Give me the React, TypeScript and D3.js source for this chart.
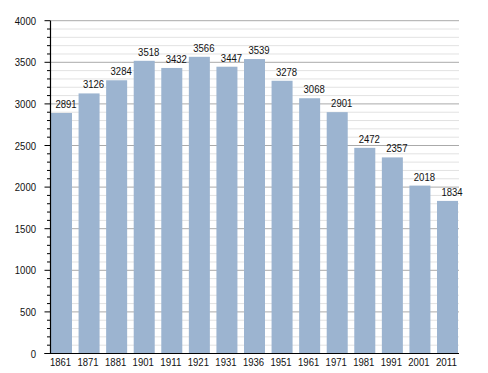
import React from "react";
import * as d3 from "d3";

const years = ["1861","1871","1881","1901","1911","1921","1931","1936","1951","1961","1971","1981","1991","2001","2011"];
const population = [2891,3126,3284,3518,3432,3566,3447,3539,3278,3068,2901,2472,2357,2018,1834];
const yMajorTicks = [0,500,1000,1500,2000,2500,3000,3500,4000];

const W = 488, H = 373;
const axisX = 50.5, plotRight = 459, yTop = 20.7, yBottom = 353.5;

export default function App() {
  const x = d3.scaleBand<string>().domain(years).range([51, 458]).paddingInner(0.238).paddingOuter(0).align(0);
  const y = d3.scaleLinear().domain([0, 4000]).range([yBottom, yTop]);
  const minor = d3.range(0, 4001, 100);
  const font = "'Liberation Sans', Arial, sans-serif";
  const perChar = 5.3;
  return (
    <svg width={W} height={H} style={{ position: "absolute", left: 0, top: 0, background: "#fff" }} fontFamily={font}>
      {minor.filter(v => v % 500 !== 0).map(v => (
        <line key={"g"+v} x1={axisX} x2={plotRight} y1={y(v)} y2={y(v)} stroke="#e2e2e2" strokeWidth={1} />
      ))}
      {yMajorTicks.filter(v => v > 0).map(v => (
        <line key={"G"+v} x1={axisX} x2={plotRight} y1={y(v)} y2={y(v)} stroke="#aaaaaa" strokeWidth={1} />
      ))}
      {years.map((yr, i) => (
        <rect key={yr} x={x(yr)} y={y(population[i])} width={x.bandwidth()} height={y(0) - y(population[i])} fill="#9cb4d0" />
      ))}
      {years.map((yr, i) => (
        <text key={"v"+yr} x={(x(yr) as number) + x.bandwidth() / 2 + 4.5} y={y(population[i]) - 5} textAnchor="middle" fontSize={11} fill="#111"
          textLength={String(population[i]).length * perChar} lengthAdjust="spacingAndGlyphs">{population[i]}</text>
      ))}
      {minor.map(v => (
        <line key={"t"+v} x1={v % 500 === 0 ? axisX - 6 : axisX - 3.5} x2={axisX} y1={y(v)} y2={y(v)} stroke="#000" strokeWidth={1} />
      ))}
      <line x1={axisX} x2={axisX} y1={yTop} y2={yBottom} stroke="#000" strokeWidth={1.2} />
      <line x1={axisX - 6} x2={plotRight} y1={yBottom} y2={yBottom} stroke="#000" strokeWidth={1.2} />
      {yMajorTicks.map(v => (
        <text key={"y"+v} x={36} y={y(v) + 4} textAnchor="end" fontSize={11} fill="#111"
          textLength={String(v).length * perChar} lengthAdjust="spacingAndGlyphs">{v}</text>
      ))}
      {years.map(yr => (
        <text key={"x"+yr} x={(x(yr) as number) + x.bandwidth() / 2 - 1} y={365.5} textAnchor="middle" fontSize={11} fill="#111"
          textLength={yr.length * perChar} lengthAdjust="spacingAndGlyphs">{yr}</text>
      ))}
    </svg>
  );
}
